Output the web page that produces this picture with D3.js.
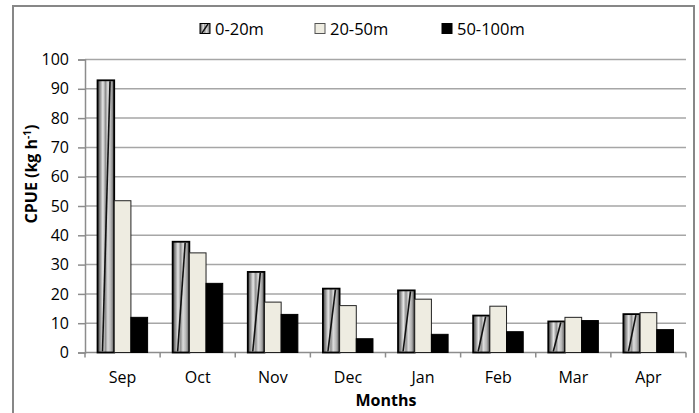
<!DOCTYPE html>
<html><head><meta charset="utf-8">
<script src="https://cdn.jsdelivr.net/npm/d3@7"></script>
<style>
html,body{margin:0;padding:0;background:#fff;}
svg text{font-family:"Open Sans",sans-serif;}
</style></head>
<body>
<svg id="c" width="699" height="413"></svg>
<script>
const months = ["Sep","Oct","Nov","Dec","Jan","Feb","Mar","Apr"];
const seriesNames = ["0-20m","20-50m","50-100m"];
const s0_20 = [92.9, 37.8, 27.5, 21.8, 21.2, 12.6, 10.6, 13.1];
const s20_50 = [51.8, 34.0, 17.2, 16.0, 18.2, 15.8, 12.0, 13.6];
const s50_100 = [12.0, 23.6, 13.0, 4.7, 6.2, 7.1, 10.9, 7.8];
const yTicks = [0,10,20,30,40,50,60,70,80,90,100];
const seriesValues = [s0_20, s20_50, s50_100];

const svg = d3.select("#c");
const M = {left:85, right:686, top:59.5, bottom:352.5};

// outer border
svg.append("rect").attr("x",13).attr("y",6).attr("width",681).attr("height",420)
  .attr("fill","none").attr("stroke","#878787").attr("stroke-width",2);

const defs = svg.append("defs");
const grad = defs.append("linearGradient").attr("id","metal").attr("x1","0").attr("x2","1").attr("y1","0").attr("y2","0");
[[0,"#444"],[0.15,"#8a8a8a"],[0.32,"#e8e8e8"],[0.48,"#8f8f8f"],[0.62,"#dcdcdc"],[0.8,"#b5b5b5"],[1,"#555"]]
  .forEach(([o,c])=>grad.append("stop").attr("offset",o).attr("stop-color",c));

const x = d3.scaleBand().domain(months).range([M.left, M.right]).paddingInner(1/3).paddingOuter(1/6);
const xs = d3.scaleBand().domain(seriesNames).range([0, x.bandwidth()]);
const xStep = d3.scaleBand().domain(months).range([M.left, M.right]);
const y = d3.scaleLinear().domain([0,100]).range([M.bottom, M.top]);

// gridlines
svg.append("g").selectAll("line").data(yTicks.filter(d=>d>0)).join("line")
  .attr("x1",M.left).attr("x2",M.right).attr("y1",d=>y(d)).attr("y2",d=>y(d))
  .attr("stroke","#a6a6a6").attr("stroke-width",1.5);

// y axis
const yAxis = svg.append("g").attr("transform",`translate(${M.left},0)`)
  .call(d3.axisLeft(y).tickValues(yTicks).tickSize(7).tickPadding(9));
yAxis.select(".domain").attr("stroke","#8c8c8c").attr("stroke-width",1.5);
yAxis.selectAll(".tick line").attr("stroke","#8c8c8c").attr("stroke-width",1.5);
yAxis.selectAll("text").attr("font-size",16).attr("fill","#000").attr("font-family","Open Sans");

// x axis line & ticks
svg.append("line").attr("x1",M.left).attr("x2",M.right).attr("y1",M.bottom).attr("y2",M.bottom)
  .attr("stroke","#8c8c8c").attr("stroke-width",1.5);
const boundaries = months.map(m=>xStep(m)).concat([M.right]);
svg.append("g").selectAll("line").data(boundaries).join("line")
  .attr("x1",d=>d).attr("x2",d=>d).attr("y1",M.bottom).attr("y2",M.bottom+5)
  .attr("stroke","#8c8c8c").attr("stroke-width",1.5);
svg.append("g").selectAll("text").data(months).join("text")
  .attr("x",d=>xStep(d)+xStep.bandwidth()/2).attr("y",382.5).attr("text-anchor","middle")
  .attr("font-size",16).text(d=>d);

// bars
const fills = ["url(#metal)","#eeece1","#000"];
const strokes = ["#000","#222","#000"];
seriesNames.forEach((s,si)=>{
  const g = svg.append("g");
  const data = months.map((m,i)=>({m, v:seriesValues[si][i]}));
  g.selectAll("rect").data(data).join("rect")
    .attr("x",d=>x(d.m)+xs(s)).attr("width",xs.bandwidth())
    .attr("y",d=>y(d.v)).attr("height",d=>y(0)-y(d.v))
    .attr("fill",fills[si]).attr("stroke",strokes[si]).attr("stroke-width",si===0?1.8:1);
  if(si===0){
    g.selectAll("path").data(data).join("path")
      .attr("d",d=>{
        const x0 = x(d.m)+xs(s), w = xs.bandwidth(), yt = y(d.v), yb = y(0);
        return `M${x0+w*0.3},${yb-1}L${x0+w*0.75},${yt+1}`;
      })
      .attr("stroke","#111").attr("stroke-width",1.6).attr("fill","none");
  }
});

// legend
const legendX = [200, 315, 442];
const lg = svg.append("g");
seriesNames.forEach((s,i)=>{
  lg.append("rect").attr("x",legendX[i]).attr("y",23.5).attr("width",10).attr("height",10)
    .attr("fill",fills[i]).attr("stroke",i===1?"#555":"#000").attr("stroke-width",1);
  if(i===0) lg.append("path").attr("d",`M${legendX[i]+2},${33}L${legendX[i]+8},${24}`).attr("stroke","#111").attr("stroke-width",1.4);
  lg.append("text").attr("x",legendX[i]+15).attr("y",34.5).attr("font-size",16.5).text(s);
});

// axis titles
svg.append("text").attr("x",386).attr("y",405.5).attr("text-anchor","middle")
  .attr("font-size",16).attr("font-weight","bold").text("Months");
const yt = svg.append("text").attr("transform","translate(37,174) rotate(-90)")
  .attr("text-anchor","middle").attr("font-size",16).attr("font-weight","bold");
yt.append("tspan").text("CPUE (kg h");
yt.append("tspan").attr("font-size",10).attr("dy",-6).text("-1");
yt.append("tspan").attr("dy",6).text(")");
</script>
</body></html>
